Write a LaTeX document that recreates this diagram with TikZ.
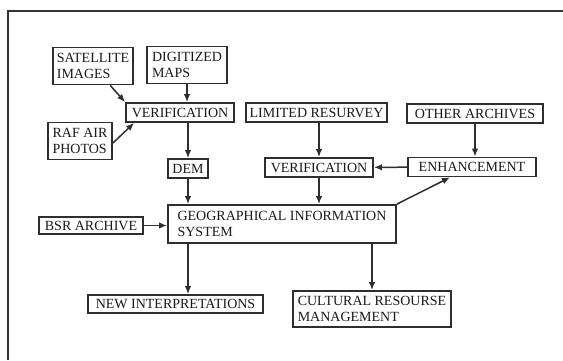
\documentclass[tikz,border=0pt]{standalone}
\usepackage{fontspec}
\setmainfont{Liberation Serif}
\usetikzlibrary{arrows,arrows.meta}

\begin{document}
\begin{tikzpicture}[->, >={Latex[length=8pt,width=6.5pt]}, line width=1.5pt, x=1pt, y=-1pt]
        \tikzstyle{every node}=[font=\fontsize{14}{15.5}\selectfont, text=black!90]
        \tikzstyle{box}=[draw=black!82, line width=1.8pt, inner sep=2pt, minimum height=19pt]
        \tikzstyle{twoline}=[box, align=left, minimum height=37pt]

        \useasboundingbox (0,0) rectangle (563,360);
        \draw[-, black!80, line width=1.5pt] (8,360) -- (8,11) -- (563,11);

        \node[twoline, minimum width=80pt]  (sat)  at (93,66)     {SATELLITE\\IMAGES};
        \node[twoline, minimum width=80pt]  (dig)  at (187,65)    {DIGITIZED\\MAPS};
        \node[box, minimum width=108pt]     (ver1) at (180,112.5) {VERIFICATION};
        \node[twoline, minimum width=64pt]  (raf)  at (80,141)    {RAF AIR\\PHOTOS};
        \node[box, minimum width=40pt]      (dem)  at (188,168.5) {DEM};
        \node[box, minimum width=141pt]     (lim)  at (316.5,112.5) {LIMITED RESURVEY};
        \node[box, minimum width=136pt]     (oth)  at (475,113.5) {OTHER ARCHIVES};
        \node[box, minimum width=108pt]     (ver2) at (319,167.5) {VERIFICATION};
        \node[box, minimum width=128pt]     (enh)  at (472,167)   {ENHANCEMENT};
        \node[twoline, minimum width=228pt, minimum height=38pt] (gis) at (282,224) {GEOGRAPHICAL INFORMATION\\SYSTEM};
        \node[box, minimum width=104pt, minimum height=17pt] (bsr) at (91,225.5) {BSR ARCHIVE};
        \node[box, minimum width=175pt, minimum height=18pt] (new) at (175.5,304) {NEW INTERPRETATIONS};
        \node[twoline, minimum width=158pt, minimum height=36pt] (cult) at (372,309) {CULTURAL RESOURSE\\MANAGEMENT};

        \path[color=black!82]
            (sat)                   edge (ver1.north west)
            ([yshift=-2pt]raf.east) edge ([xshift=9pt]ver1.south west)
            (dig.south)             edge (dig.south |- ver1.north)
            (dem |- ver1.south)     edge (dem)
            (dem)                   edge (dem |- gis.north)
            (ver2 |- lim.south)     edge (ver2)
            (oth)                   edge (oth |- enh.north)
            (enh)                   edge (ver2)
            (ver2)                  edge (ver2 |- gis.north)
            (gis.north east)        edge ([xshift=-22pt]enh.south)
            (bsr)                   edge (bsr -| gis.west)
            (dem |- gis.south)      edge (dem |- new.north)
            (cult |- gis.south)     edge (cult)
        ;
\end{tikzpicture}
\end{document}
